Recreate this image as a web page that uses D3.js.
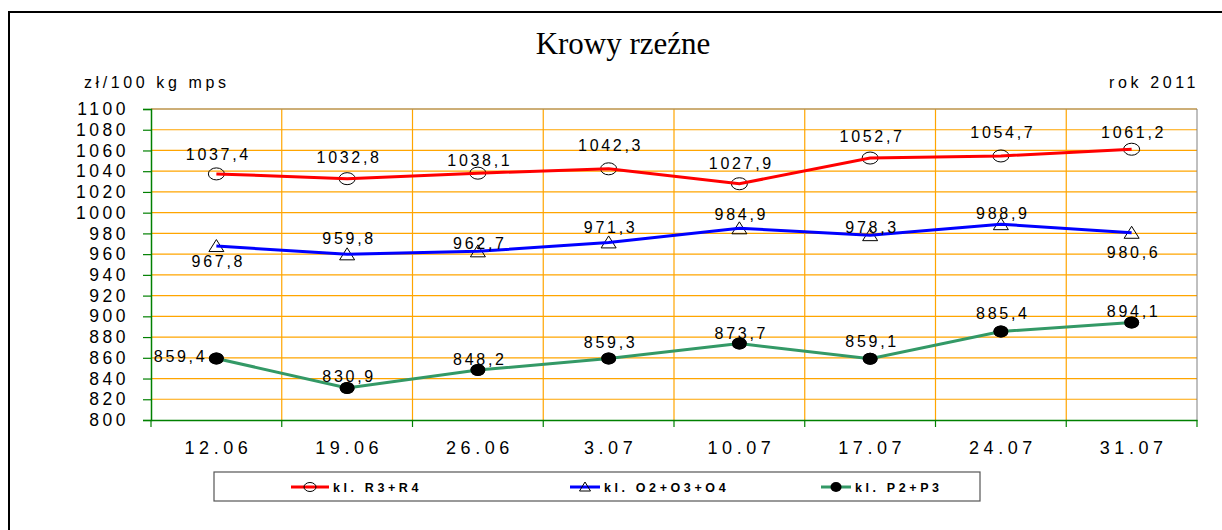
<!DOCTYPE html>
<html><head><meta charset="utf-8">
<script src="https://cdn.jsdelivr.net/npm/d3@7"></script>
<style>body{margin:0;background:#fff}svg{display:block}text{font-family:"Liberation Sans",Arial,sans-serif}</style>
</head><body><svg id="c" width="1222" height="530"></svg>
<script>
const categories = ["12.06","19.06","26.06","3.07","10.07","17.07","24.07","31.07"];
const r3r4 = [1037.4,1032.8,1038.1,1042.3,1027.9,1052.7,1054.7,1061.2];
const o2o3o4 = [967.8,959.8,962.7,971.3,984.9,978.3,988.9,980.6];
const p2p3 = [859.4,830.9,848.2,859.3,873.7,859.1,885.4,894.1];
const yTicks = d3.range(800,1101,20);
const seriesNames = ["kl. R3+R4","kl. O2+O3+O4","kl. P2+P3"];
// label layout: vertical baseline offsets (px) from the point; null = label to the left
const redLabelDy = [-14,-16,-7,-18,-15,-16,-18,-11];
const blueLabelDy = [21,-10,-2,-9,-8,-2,-5,25];
const greenLabelDy = [null,-6,-5,-11,-5,-12,-12,-5];

const svg = d3.select("#c");
svg.append("rect").attr("x",9).attr("y",12).attr("width",1240).attr("height",540).attr("fill","#fff").attr("stroke","#000").attr("stroke-width",2);

const L=151,R=1197,T=109,B=420;
const x = d3.scaleBand().domain(categories).range([L,R]);
const y = d3.scaleLinear().domain([800,1100]).range([B,T]);
const cx = d => x(d)+x.bandwidth()/2;

// grid
const g = svg.append("g");
g.selectAll(".hg").data(yTicks.filter(v=>v>800)).join("line")
 .attr("x1",L).attr("x2",R).attr("y1",d=>y(d)).attr("y2",d=>y(d)).attr("stroke","#FFA500").attr("stroke-width",1.2);
g.selectAll(".vg").data(categories.slice(1)).join("line")
 .attr("x1",d=>x(d)).attr("x2",d=>x(d)).attr("y1",T).attr("y2",B).attr("stroke","#FFA500").attr("stroke-width",1.2);
// plot border
g.append("line").attr("x1",L).attr("x2",R).attr("y1",T).attr("y2",T).attr("stroke","#9a8a70").attr("stroke-width",1);
g.append("line").attr("x1",R).attr("x2",R).attr("y1",T).attr("y2",B).attr("stroke","#808080").attr("stroke-width",1);

// axes
const yAxis = d3.axisLeft(y).tickValues(yTicks).tickSize(8).tickPadding(14).tickFormat(d3.format("d"));
const ya = svg.append("g").attr("transform",`translate(${L},0)`).call(yAxis);
ya.select(".domain").attr("stroke","#008000").attr("stroke-width",1.5);
ya.selectAll(".tick line").attr("stroke","#008000").attr("stroke-width",1.2);
ya.selectAll(".tick text").attr("font-size",17.5).attr("letter-spacing","3.5px").attr("fill","#000");

const xAxis = d3.axisBottom(x).tickValues(categories).tickSize(0).tickPadding(21);
const xa = svg.append("g").attr("transform",`translate(0,${B})`).call(xAxis);
xa.select(".domain").attr("stroke","#008000").attr("stroke-width",1.5);
xa.selectAll(".tick text").attr("font-size",18).attr("letter-spacing","4.5px").attr("fill","#000").attr("dx",2);
// x tick marks at band edges
svg.append("g").selectAll("line").data(categories.map(c=>x(c)).concat([R])).join("line")
 .attr("x1",d=>d).attr("x2",d=>d).attr("y1",B).attr("y2",B+7).attr("stroke","#008000").attr("stroke-width",1.2);

// titles
svg.append("text").attr("x",623).attr("y",54).attr("text-anchor","middle").attr("font-size",31)
 .style("font-family","'Liberation Serif','Times New Roman',serif").text("Krowy rzeźne");
svg.append("text").attr("x",84).attr("y",88).attr("font-size",16).attr("letter-spacing","3.6px").text("zł/100 kg mps");
svg.append("text").attr("x",1199).attr("y",88).attr("text-anchor","end").attr("font-size",16).attr("letter-spacing","3.6px").text("rok 2011");

const line = d3.line().x((d,i)=>cx(categories[i])).y(d=>y(d));
const fmt = v => d3.format(".1f")(v).replace(".",",");

function drawSeries(data,color,marker,labelDy){
  const s = svg.append("g");
  data.forEach((v,i)=>drawMarker(s,marker,cx(categories[i]),y(v)));
  s.append("path").datum(data).attr("d",line).attr("fill","none").attr("stroke",color).attr("stroke-width",3);
  if(marker==="dot") data.forEach((v,i)=>drawMarker(s,marker,cx(categories[i]),y(v)));
  data.forEach((v,i)=>{
    const px=cx(categories[i]), py=y(v);
    const dy = labelDy[i];
    const t = s.append("text").attr("font-size",16).attr("letter-spacing","2.7px").text(fmt(v));
    if(dy===null) t.attr("x",px-9).attr("y",py+4).attr("text-anchor","end");
    else t.attr("x",px+2).attr("y",py+dy).attr("text-anchor","middle");
  });
}
function drawMarker(s,marker,px,py){
  if(marker==="circle") s.append("ellipse").attr("cx",px).attr("cy",py).attr("rx",8).attr("ry",6).attr("fill","none").attr("stroke","#000").attr("stroke-width",1);
  else if(marker==="tri") s.append("path").attr("d",`M${px},${py-6.5}L${px+7.5},${py+5.5}L${px-7.5},${py+5.5}Z`).attr("fill","none").attr("stroke","#000").attr("stroke-width",1);
  else s.append("ellipse").attr("cx",px).attr("cy",py).attr("rx",7.5).attr("ry",6).attr("fill","#000");
}
drawSeries(r3r4,"#FF0000","circle",redLabelDy);
drawSeries(o2o3o4,"#0000FF","tri",blueLabelDy);
drawSeries(p2p3,"#339966","dot",greenLabelDy);

// legend
const lg = svg.append("g");
lg.append("rect").attr("x",214).attr("y",472).attr("width",766).attr("height",29).attr("fill","#fff").attr("stroke","#555").attr("stroke-width",1.2);
const legendItems = [
 {name:seriesNames[0],color:"#FF0000",marker:"circle",x0:291},
 {name:seriesNames[1],color:"#0000FF",marker:"tri",x0:570},
 {name:seriesNames[2],color:"#339966",marker:"dot",x0:821}
];
legendItems.forEach(it=>{
  const w = it.marker==="circle"?38:30;
  lg.append("line").attr("x1",it.x0).attr("x2",it.x0+w).attr("y1",487).attr("y2",487).attr("stroke",it.color).attr("stroke-width",3);
  const m = it.x0+w/2, my=487;
  if(it.marker==="circle") lg.append("ellipse").attr("cx",m).attr("cy",my).attr("rx",6).attr("ry",4.5).attr("fill","none").attr("stroke","#000");
  else if(it.marker==="tri") lg.append("path").attr("d",`M${m},${my-5}L${m+5.5},${my+4}L${m-5.5},${my+4}Z`).attr("fill","none").attr("stroke","#000");
  else lg.append("ellipse").attr("cx",m).attr("cy",my).attr("rx",5.5).attr("ry",5).attr("fill","#000");
  lg.append("text").attr("x",it.x0+w+4).attr("y",492).attr("font-size",12.5).attr("font-weight","bold").attr("letter-spacing","3.6px").text(it.name);
});
</script></body></html>
